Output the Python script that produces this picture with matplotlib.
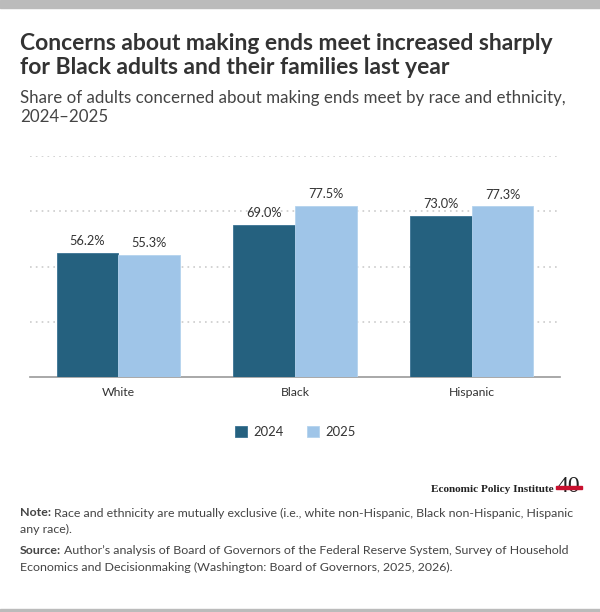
import numpy as np
import matplotlib.pyplot as plt
from matplotlib.patches import Rectangle

# data
groups = ['White', 'Black', 'Hispanic']
years = ['2024', '2025']
vals_2024 = [56.2, 69.0, 73.0]
vals_2025 = [55.3, 77.5, 77.3]
colors = ['#25617f', '#9fc5e8']

plt.rcParams['font.family'] = ['Lato', 'DejaVu Sans']

W, H = 600, 612
fig = plt.figure(figsize=(6, 6.12), dpi=100)

def fx(px):
    return px / W

def fy(px):
    return 1 - px / H

# gray bands top and bottom
fig.patches.append(Rectangle((0, fy(8)), 1, 8 / H, transform=fig.transFigure,
                             color='#bbbbbb', zorder=0))
fig.patches.append(Rectangle((0, 0), 1, 3 / H, transform=fig.transFigure,
                             color='#bbbbbb', zorder=0))

# titles
fig.text(fx(20), fy(50), 'Concerns about making ends meet increased sharply',
         fontsize=16.45, fontweight='bold', color='#333333', va='baseline')
fig.text(fx(20), fy(74), 'for Black adults and their families last year',
         fontsize=16.45, fontweight='bold', color='#333333', va='baseline')
fig.text(fx(20), fy(103), 'Share of adults concerned about making ends meet by race and ethnicity,',
         fontsize=12.15, color='#444444', va='baseline')
fig.text(fx(20), fy(122), '2024\u20132025', fontsize=12.15, color='#444444', va='baseline')

# axes: x 30..560 px, y 156 (100) .. 377 (0)
ax = fig.add_axes([fx(30), fy(377), (560 - 30) / W, (377 - 156) / H])
x = np.arange(len(groups))
w = 0.35
b1 = ax.bar(x - w / 2, vals_2024, w, color=colors[0], edgecolor='#3a7393',
            linewidth=0.6, label=years[0], zorder=3)
b2 = ax.bar(x + w / 2, vals_2025, w, color=colors[1], edgecolor='#b4d3ee',
            linewidth=0.6, label=years[1], zorder=3)
for bars in (b1, b2):
    for r in bars:
        ax.annotate(f'{r.get_height():.1f}%', (r.get_x() + r.get_width() / 2, r.get_height()),
                    xytext=(0, 4), textcoords='offset points', ha='center', va='bottom',
                    fontsize=9.2, color='#333333')

ax.set_xlim(-0.5, 2.5)
ax.set_ylim(0, 100)
ax.set_yticks([25, 50, 75, 100])
ax.yaxis.grid(True, linestyle=(0, (1, 2.5)), color='#cccccc', linewidth=1.2)
ax.tick_params(axis='y', length=0, labelleft=False)
ax.tick_params(axis='x', length=0, pad=7, labelsize=8.8, labelcolor='#333333')
ax.set_xticks(x)
ax.set_xticklabels(groups)
for s in ['top', 'right', 'left']:
    ax.spines[s].set_visible(False)
ax.spines['bottom'].set_color('#999999')
ax.spines['bottom'].set_linewidth(1.2)
ax.set_axisbelow(True)

leg = fig.legend(handles=[b1, b2], labels=years, loc='center',
                 bbox_to_anchor=(fx(295), fy(432)), ncol=2, frameon=False,
                 fontsize=9.4, handlelength=0.95, handleheight=0.95,
                 columnspacing=1.8, handletextpad=0.45)
for t in leg.get_texts():
    t.set_color('#333333')

# logo
fig.text(fx(554), fy(492), 'Economic Policy Institute', family='Liberation Serif',
         fontweight='bold', fontsize=8.1, color='#222222', ha='right', va='baseline')
fig.text(fx(568), fy(492), '40', family='Liberation Serif', fontsize=17,
         color='#222222', ha='center', va='baseline')
fig.patches.append(Rectangle((fx(556), fy(489)), 26 / W, 3.5 / H, transform=fig.transFigure,
                             color='#c8102e', zorder=5))

# notes: bold label followed by regular text
renderer = fig.canvas.get_renderer()

def note_line(ypx, bold, rest, size=8.9):
    xpos = fx(20)
    if bold:
        t = fig.text(xpos, fy(ypx), bold, fontsize=size, fontweight='bold',
                     color='#444444', va='center')
        bb = t.get_window_extent(renderer)
        xpos = (bb.x1 + 3) / W
    fig.text(xpos, fy(ypx), rest, fontsize=size, color='#444444', va='center')

note_line(513, 'Note:', 'Race and ethnicity are mutually exclusive (i.e., white non-Hispanic, Black non-Hispanic, Hispanic')
note_line(529, '', 'any race).')
note_line(551, 'Source:', 'Author\u2019s analysis of Board of Governors of the Federal Reserve System, Survey of Household')
note_line(567, '', 'Economics and Decisionmaking (Washington: Board of Governors, 2025, 2026).')

fig.savefig('out.png', dpi=100)
